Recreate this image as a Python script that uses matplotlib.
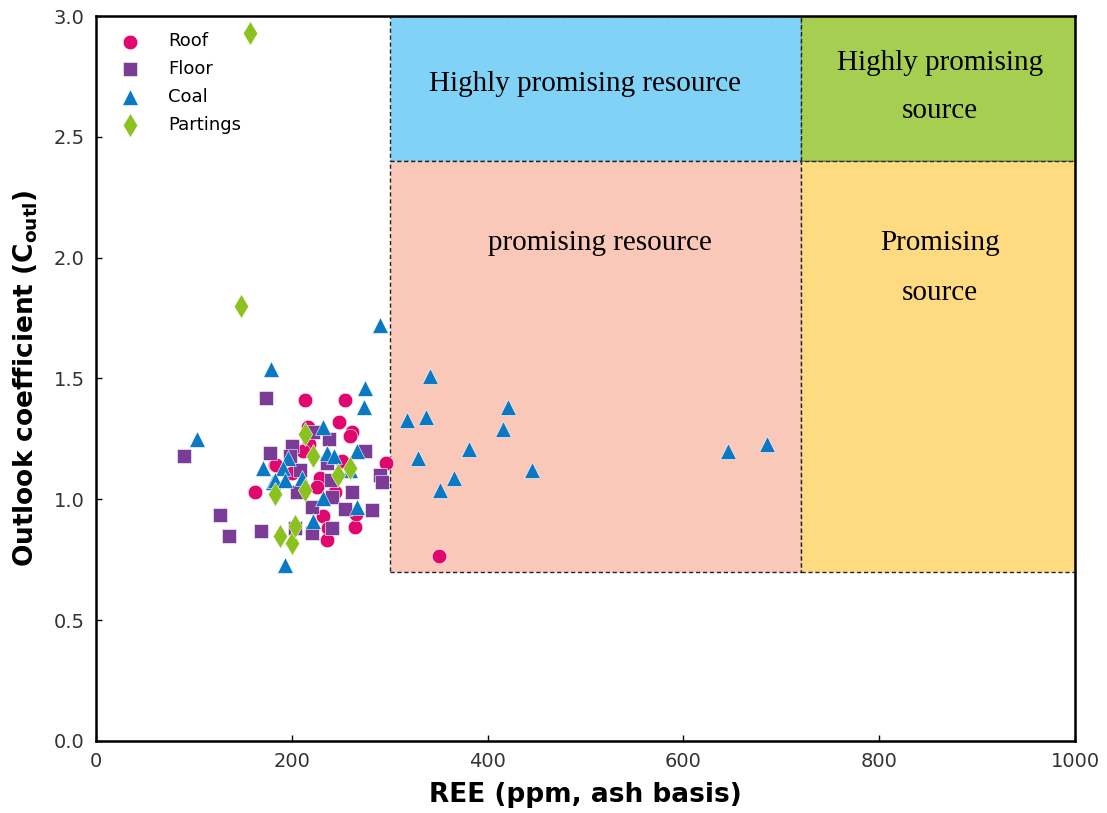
import matplotlib
matplotlib.use("Agg")
import matplotlib.pyplot as plt
from matplotlib.patches import Rectangle

# REE content (ppm, ash basis) and outlook coefficient for each sample group
roof_ree = [350, 296, 213, 254, 248, 262, 259, 217, 218, 211, 183, 251, 229, 226,
            244, 232, 237, 265, 236, 162, 184, 200, 266]
roof_c = [0.765, 1.15, 1.41, 1.41, 1.32, 1.28, 1.26, 1.30, 1.23, 1.20, 1.14, 1.16,
          1.09, 1.05, 1.03, 0.93, 0.88, 0.885, 0.83, 1.03, 1.14, 1.11, 0.94]

floor_ree = [90, 174, 127, 136, 169, 178, 200, 222, 238, 275, 198, 236, 208, 290,
             292, 205, 240, 241, 261, 221, 254, 282, 241, 221, 203]
floor_c = [1.18, 1.42, 0.935, 0.85, 0.87, 1.19, 1.22, 1.28, 1.25, 1.20, 1.18, 1.15,
           1.12, 1.10, 1.07, 1.03, 1.08, 1.01, 1.03, 0.97, 0.96, 0.955, 0.88, 0.86, 0.88]

coal_ree = [103, 179, 171, 181, 275, 274, 290, 232, 267, 236, 243, 196, 191, 210,
            183, 193, 259, 232, 267, 222, 193,
            341, 318, 337, 329, 381, 421, 416, 366, 351, 445, 646, 685]
coal_c = [1.25, 1.54, 1.13, 1.07, 1.46, 1.38, 1.72, 1.30, 1.20, 1.19, 1.18, 1.17,
          1.13, 1.09, 1.08, 1.08, 1.12, 1.005, 0.97, 0.91, 0.73,
          1.51, 1.33, 1.34, 1.17, 1.21, 1.38, 1.29, 1.09, 1.04, 1.12, 1.20, 1.23]

partings_ree = [157, 148, 213, 222, 213, 183, 188, 200, 203, 247, 259]
partings_c = [2.93, 1.80, 1.27, 1.18, 1.04, 1.02, 0.85, 0.82, 0.89, 1.10, 1.13]

# Classification zone boundaries
zone_x = [300, 720, 1000]
zone_y = [0.7, 2.4, 3.0]

fig = plt.figure(figsize=(11.07, 8.13), dpi=100)
ax = fig.add_axes([0.0867, 0.0886, 0.8844, 0.8917])

zones = [
    (zone_x[0], zone_x[1], zone_y[1], zone_y[2], "#80D2F7"),
    (zone_x[1], zone_x[2], zone_y[1], zone_y[2], "#A6CE50"),
    (zone_x[0], zone_x[1], zone_y[0], zone_y[1], "#F9C8B9"),
    (zone_x[1], zone_x[2], zone_y[0], zone_y[1], "#FEDB80"),
]
for x0, x1, y0, y1, col in zones:
    ax.add_patch(Rectangle((x0, y0), x1 - x0, y1 - y0, facecolor=col,
                           edgecolor="#222222", linestyle=(0, (3, 2)),
                           linewidth=1.0, zorder=1))

serif = ["Liberation Serif", "DejaVu Serif"]
zone_text = [
    (499, 2.72, "Highly promising resource"),
    (515, 2.06, "promising resource"),
    (862, 2.805, "Highly promising"),
    (862, 2.607, "source"),
    (862, 2.06, "Promising"),
    (862, 1.853, "source"),
]
for tx, ty, s in zone_text:
    ax.text(tx, ty, s, ha="center", va="center", fontsize=21, family=serif,
            zorder=2)

kw = dict(edgecolors="white", linewidths=0.4)
ax.scatter(roof_ree, roof_c, marker="o", color="#E0086E", label="Roof",
           s=110, zorder=3, **kw)
ax.scatter(floor_ree, floor_c, marker="s", color="#7B3C97", label="Floor",
           s=110, zorder=3, **kw)
ax.scatter(coal_ree, coal_c, marker="^", color="#0A78C2", label="Coal",
           s=130, zorder=3, **kw)
ax.scatter(partings_ree, partings_c, marker="d", color="#8CC21F", label="Partings",
           s=150, zorder=4, **kw)

ax.set_xlim(0, 1000)
ax.set_ylim(0, 3.0)
ax.set_xticks([0, 200, 400, 600, 800, 1000])
ax.set_yticks([0.0, 0.5, 1.0, 1.5, 2.0, 2.5, 3.0])
ax.set_yticklabels(["0.0", "0.5", "1.0", "1.5", "2.0", "2.5", "3.0"])
ax.tick_params(direction="in", length=4, width=1, labelsize=14,
               labelcolor="#333333", pad=8)
for sp in ax.spines.values():
    sp.set_linewidth(1.8)

ax.set_xlabel("REE (ppm, ash basis)", fontsize=19, fontweight="bold", labelpad=8)
ax.set_ylabel(r"Outlook coefficient (C$_{\mathbf{outl}}$)", fontsize=19,
              fontweight="bold", labelpad=10)

ax.legend(loc="upper left", frameon=False, fontsize=13, handletextpad=1.1,
          borderaxespad=0.5, labelspacing=0.55)

fig.savefig("out.png", dpi=100)
